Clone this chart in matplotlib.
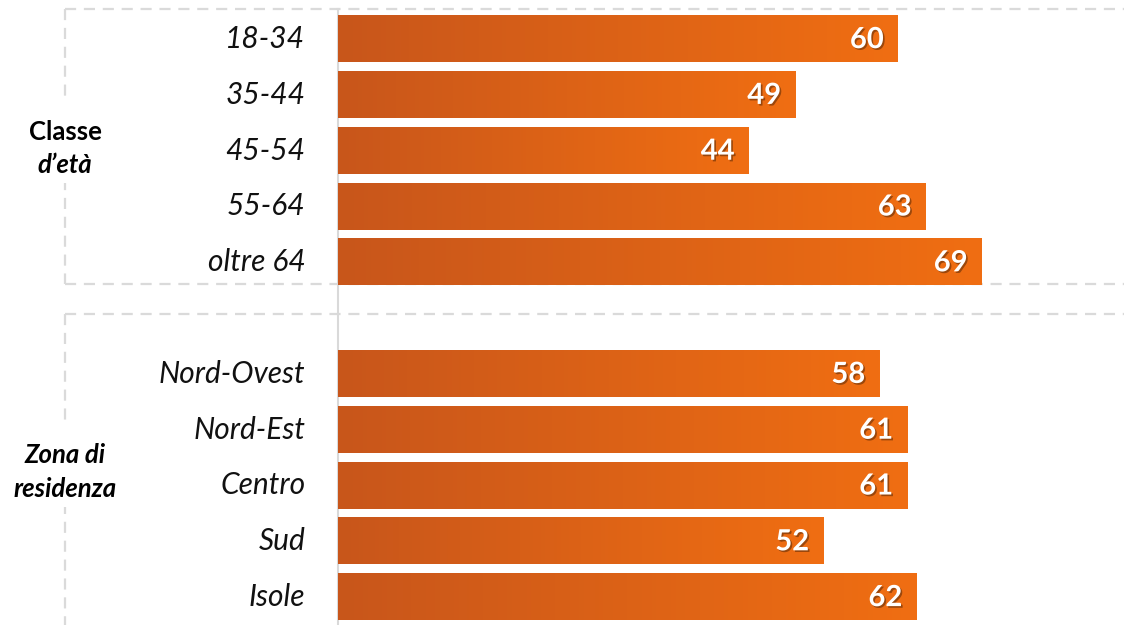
import numpy as np
import matplotlib.pyplot as plt
import matplotlib.patheffects as pe
from matplotlib.colors import LinearSegmentedColormap

# data
eta_labels = ["18-34", "35-44", "45-54", "55-64", "oltre 64"]
eta_values = [60, 49, 44, 63, 69]
zona_labels = ["Nord-Ovest", "Nord-Est", "Centro", "Sud", "Isole"]
zona_values = [58, 61, 61, 52, 62]

labels = eta_labels + [""] + zona_labels
values = eta_values + [None] + zona_values

W, H = 1124, 625
fig = plt.figure(figsize=(W / 100, H / 100), dpi=100)

# overlay in pixel coords for the dashed group frames
deco = fig.add_axes([0, 0, 1, 1], zorder=0)
deco.set_xlim(0, W)
deco.set_ylim(H, 0)
deco.axis("off")

dash = dict(color="#DADADA", lw=1.6, dashes=(5, 3.5))
# group 1 frame
deco.plot([65, W], [9, 9], **dash)
deco.plot([65, W], [284, 284], **dash)
deco.plot([65, 65], [9, 284], **dash)
# group 2 frame
deco.plot([65, W], [314, 314], **dash)
deco.plot([65, 65], [314, H + 5], **dash)

# axis line
deco.plot([337.5, 337.5], [9, H], color="#D9D9D9", lw=1.5)

lab_font = ["Lato", "DejaVu Sans"]
deco.text(65, 132, "Classe", ha="center", va="center", fontsize=18.5,
          fontweight="bold", family=lab_font,
          bbox=dict(fc="white", ec="none", pad=14))
deco.text(65, 165, "d\u2019età", ha="center", va="center", fontsize=18.5,
          fontweight="bold", style="italic", family=lab_font,
          bbox=dict(fc="white", ec="none", pad=4))
deco.text(65, 455, "Zona di", ha="center", va="center", fontsize=18.5,
          fontweight="bold", style="italic", family=lab_font,
          bbox=dict(fc="white", ec="none", pad=14))
deco.text(65, 489, "residenza", ha="center", va="center", fontsize=18.5,
          fontweight="bold", style="italic", family=lab_font,
          bbox=dict(fc="white", ec="none", pad=4))

# bar axes
x0 = 338
ax = fig.add_axes([x0 / W, 0, 1 - x0 / W, 1], zorder=1)
ax.patch.set_alpha(0)
scale = 9.33  # px per unit
ax.set_xlim(0, (W - x0) / scale)
slot = 55.8
ax.set_ylim((H - 39) / slot, -39 / slot)
ax.axis("off")

cmap = LinearSegmentedColormap.from_list("og", ["#C8561B", "#F06E12"])
grad = np.linspace(0, 1, 256).reshape(1, -1)
h = 0.83

for i, (lab, v) in enumerate(zip(labels, values)):
    if lab:
        ax.text(-3.5, i, lab, ha="right", va="center", fontsize=21.5,
                style="italic", family=lab_font, color="#111111")
    if v is None:
        continue
    ax.imshow(grad, extent=[0, v, i + h / 2, i - h / 2], cmap=cmap,
              aspect="auto", interpolation="bilinear", zorder=2)
    ax.text(v - 1.5, i + 0.02, str(v), ha="right", va="center", fontsize=21,
            fontweight="bold", color="white", family=lab_font, zorder=3,
            path_effects=[pe.SimplePatchShadow(offset=(1.2, -1.2),
                                               shadow_rgbFace="black", alpha=0.35),
                          pe.Normal()])

ax.set_xlim(0, (W - x0) / scale)
ax.set_ylim((H - 39) / slot, -39 / slot)

fig.savefig("out.png", dpi=100)
